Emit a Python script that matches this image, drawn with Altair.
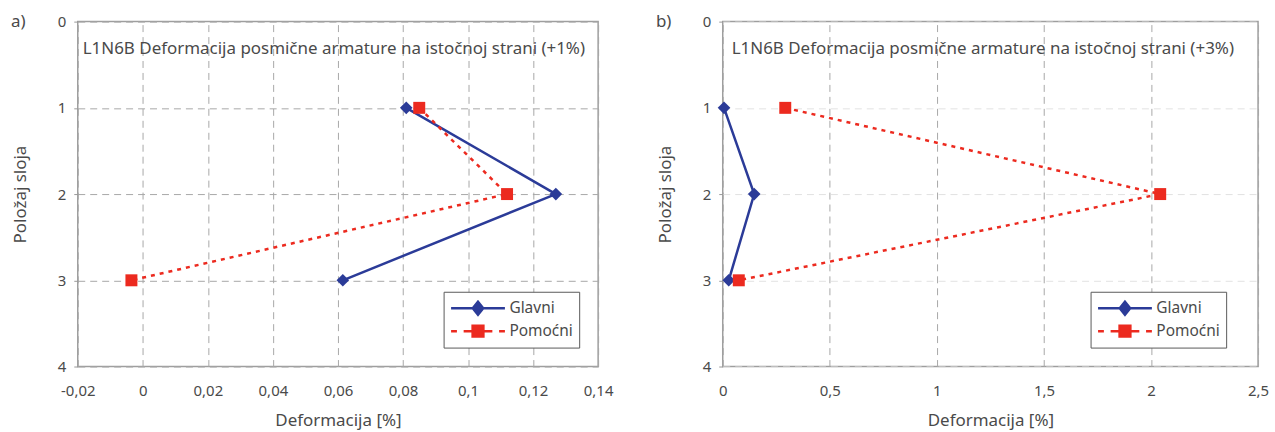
import altair as alt
import pandas as pd

# Layer positions (y) and strains (x) for each series, per panel
positions = [1, 2, 3]
series_labels = ["Glavni", "Pomoćni"]

glavni_a = [0.081, 0.127, 0.0615]
pomocni_a = [0.085, 0.112, -0.0035]

glavni_b = [0.006, 0.147, 0.028]
pomocni_b = [0.292, 2.043, 0.075]

titles = [
    "L1N6B Deformacija posmične armature na istočnoj strani (+1%)",
    "L1N6B Deformacija posmične armature na istočnoj strani (+3%)",
]
panel_tags = ["a)", "b)"]

x_ticks_a = [-0.02, 0, 0.02, 0.04, 0.06, 0.08, 0.1, 0.12, 0.14]
x_ticks_b = [0, 0.5, 1, 1.5, 2, 2.5]
y_ticks = [0, 1, 2, 3, 4]

BLUE = "#2b3b98"
RED = "#ec2a1f"
FONT = "Noto Sans"
TEXT = "#4a4a4a"

# Legend symbols: a line segment with the series marker in the middle
# (unit = half the symbol size, i.e. 9 px for symbolSize 324).
# The dashed key is drawn as separate short segments so the square stays crisp.
LEGEND_SHAPES = [
    "M-3,0H3M0,-0.72L0.58,0L0,0.72L-0.58,0Z",
    "M-3,0H-2.35M-1.6,0H-0.6M0.6,0H1.6M2.35,0H3"
    "M-0.6,-0.6H0.6V0.6H-0.6Z",
]


def frame(glavni, pomocni):
    rows = []
    for name, vals in zip(series_labels, [glavni, pomocni]):
        for p, v in zip(positions, vals):
            rows.append({"pos": p, "val": v, "series": name})
    return pd.DataFrame(rows)


def panel(df, x_dom, x_ticks, title, title_x, tag, width, legend_x, y_grid_color):
    x = alt.X(
        "val:Q",
        scale=alt.Scale(domain=x_dom, nice=False, zero=False),
        axis=alt.Axis(
            values=x_ticks,
            format="~g",
            title="Deformacija [%]",
            labelExpr="replace(replace(datum.label, '.', ','), '\u2212', '-')",
            grid=True,
            gridColor="#a8a8a8",
            gridDash=[7, 5],
            gridWidth=1,
            domain=False,
            ticks=False,
            labelPadding=17,
            labelFontSize=15,
            titlePadding=14,
            titleFontSize=17,
            labelFlush=False,
        ),
    )
    y = alt.Y(
        "pos:Q",
        scale=alt.Scale(domain=[0, 4], reverse=True, nice=False),
        axis=alt.Axis(
            values=y_ticks,
            format="d",
            title="Položaj sloja",
            grid=True,
            gridColor=y_grid_color,
            gridDash=[7, 5],
            gridWidth=1,
            domain=False,
            ticks=True,
            tickSize=4,
            tickColor="#999999",
            labelPadding=8,
            labelFontSize=15,
            titlePadding=28,
            titleFontSize=17,
        ),
    )
    base = alt.Chart(df)
    glavni = base.transform_filter(alt.datum.series == "Glavni")
    pomocni = base.transform_filter(alt.datum.series == "Pomoćni")

    line_g = glavni.mark_line(color=BLUE, strokeWidth=2.5).encode(x=x, y=y, order="pos:Q")
    line_p = pomocni.mark_line(color=RED, strokeWidth=2.5, strokeDash=[4, 5]).encode(
        x=x, y=y, order="pos:Q"
    )
    pts_g = glavni.mark_point(shape="diamond", filled=True, opacity=1, color=BLUE, size=160).encode(x=x, y=y)
    pts_p = pomocni.mark_point(shape="square", filled=True, opacity=1, color=RED, size=144).encode(x=x, y=y)

    legend = alt.Legend(
        title=None,
        orient="none",
        legendX=legend_x,
        legendY=271,
        direction="vertical",
        strokeColor="#5a5a5a",
        fillColor="white",
        padding=6,
        symbolSize=324,
        symbolStrokeWidth=2.5,
        symbolOffset=18,
        rowPadding=1,
        labelOffset=21,
        labelFont=FONT,
        labelFontSize=15.5,
        labelColor=TEXT,
    )
    sdom = alt.Scale(domain=series_labels, range=[BLUE, RED])
    key = base.transform_filter(alt.datum.pos < 0).mark_point(filled=True, opacity=1).encode(
        x=x,
        y=y,
        fill=alt.Fill("series:N", scale=sdom, legend=legend),
        stroke=alt.Stroke("series:N", scale=sdom, legend=legend),
        shape=alt.Shape("series:N", scale=alt.Scale(domain=series_labels, range=LEGEND_SHAPES), legend=legend),
    )

    head = alt.Chart(pd.DataFrame({"t": [title]})).mark_text(
        align="left", baseline="middle", font=FONT, fontSize=17, color=TEXT
    ).encode(text="t:N", x=alt.value(title_x), y=alt.value(27))
    tag_mark = alt.Chart(pd.DataFrame({"t": [tag]})).mark_text(
        align="left", baseline="middle", font=FONT, fontSize=17, color=TEXT
    ).encode(text="t:N", x=alt.value(-67), y=alt.value(0))
    return alt.layer(line_g, line_p, pts_g, pts_p, key, head, tag_mark).properties(width=width, height=346)


left = panel(frame(glavni_a, pomocni_a), [-0.02, 0.14], x_ticks_a, titles[0], 5, panel_tags[0], 522, 367, "#a8a8a8")
right = panel(frame(glavni_b, pomocni_b), [0, 2.5], x_ticks_b, titles[1], 9, panel_tags[1], 537, 369, "#e2e2e2")

chart = (
    alt.hconcat(left, right, spacing=125, bounds="flush")
    .resolve_scale(x="independent", y="independent", fill="independent", stroke="independent",
                   shape="independent")
    .resolve_legend(fill="independent", stroke="independent", shape="independent")
    .properties(padding={"left": 10, "top": 11, "right": 5, "bottom": 5}, background="white")
    .configure_view(stroke="#9e9e9e", strokeWidth=1.5)
    .configure_axis(labelFont=FONT, titleFont=FONT, labelColor=TEXT, titleColor=TEXT, titleFontWeight="normal")
)

chart.save("out.html", embed_options={"renderer": "svg", "actions": False})
